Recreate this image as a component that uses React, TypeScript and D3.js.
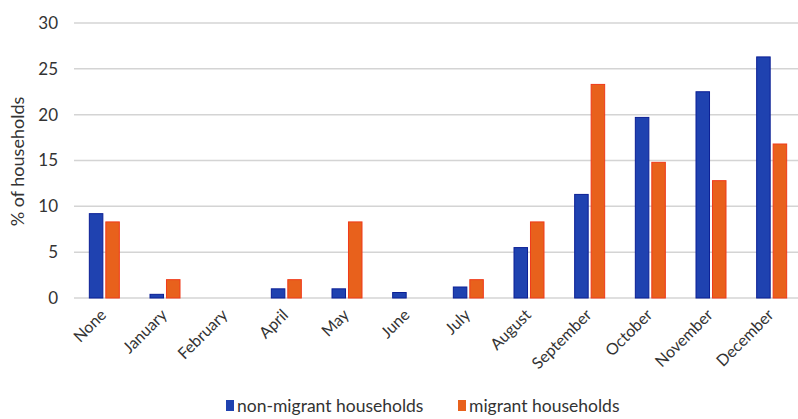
import React, { useEffect, useRef } from 'react';
import * as d3 from 'd3';

const categories = ["None", "January", "February", "April", "May", "June", "July", "August", "September", "October", "November", "December"];
const nonMigrant = [9.2, 0.4, 0, 1.0, 1.0, 0.6, 1.2, 5.5, 11.3, 19.7, 22.5, 26.3];
const migrant = [8.3, 2.0, 0, 2.0, 8.3, 0, 2.0, 8.3, 23.3, 14.8, 12.8, 16.8];
const seriesNames = ["non-migrant households", "migrant households"];
const yTicks = [0, 5, 10, 15, 20, 25, 30];

const FONT = "Lato, 'Open Sans', sans-serif";

function Chart() {
    const ref = useRef<SVGSVGElement>(null);

    useEffect(() => {
        const svg = d3.select(ref.current);
        svg.selectAll("*").remove();

        const width = 798;
        const left = 74, right = 802, top = 23, bottom = 298;

        const x = d3.scaleBand().domain(categories).range([left, right]).padding(0);
        const sub = d3.scaleBand().domain(seriesNames).range([-15, 15]).paddingInner(0.18);
        const y = d3.scaleLinear().domain([0, 30]).range([bottom, top]);

        // gridlines
        svg.append("g")
            .selectAll("line")
            .data(yTicks)
            .enter()
            .append("line")
            .attr("x1", left)
            .attr("x2", width)
            .attr("y1", d => y(d))
            .attr("y2", d => y(d))
            .attr("stroke", "#d4d4d4")
            .attr("stroke-width", 1.5);

        // y tick labels
        svg.append("g")
            .selectAll("text")
            .data(yTicks)
            .enter()
            .append("text")
            .attr("x", 58)
            .attr("y", d => y(d))
            .attr("dy", "0.35em")
            .attr("text-anchor", "end")
            .attr("font-family", FONT)
            .attr("font-size", 17)
            .attr("fill", "#333")
            .text(d => d);

        // y title
        svg.append("text")
            .attr("transform", "translate(24," + ((top + bottom) / 2 + 1) + ") rotate(-90)")
            .attr("text-anchor", "middle")
            .attr("font-family", FONT)
            .attr("font-size", 18)
            .attr("fill", "#333")
            .text("% of households");

        const colors = ["#1f42b0", "#e8611c"];
        const strokes = ["#0b1f95", "#f03a1a"];
        const series = [nonMigrant, migrant];

        // bars
        series.forEach((vals, si) => {
            const data = vals.map((v, i) => ({ cat: categories[i], v }));
            svg.append("g")
                .selectAll("rect")
                .data(data.filter(d => d.v > 0))
                .enter()
                .append("rect")
                .attr("x", d => (x(d.cat) as number) + x.bandwidth() / 2 + (sub(seriesNames[si]) as number))
                .attr("y", d => y(d.v))
                .attr("width", sub.bandwidth())
                .attr("height", d => bottom - y(d.v))
                .attr("fill", colors[si])
                .attr("stroke", strokes[si])
                .attr("stroke-width", 1);
        });

        // x labels
        svg.append("g")
            .selectAll("text")
            .data(categories)
            .enter()
            .append("text")
            .attr("transform", d => "translate(" + ((x(d) as number) + x.bandwidth() / 2 - 1) + ",312) rotate(-45)")
            .attr("text-anchor", "end")
            .attr("dy", "0.35em")
            .attr("font-family", FONT)
            .attr("font-size", 16)
            .attr("fill", "#333")
            .text(d => d);

        // legend (reference clips it at the bottom edge; kept just inside)
        const legendX = [226, 458];
        seriesNames.forEach((name, si) => {
            svg.append("rect")
                .attr("x", legendX[si])
                .attr("y", 400)
                .attr("width", 8)
                .attr("height", 11)
                .attr("fill", colors[si]);
            svg.append("text")
                .attr("x", legendX[si] + 11)
                .attr("y", 406)
                .attr("dy", "0.35em")
                .attr("font-family", FONT)
                .attr("font-size", 17.5)
                .attr("fill", "#333")
                .text(name);
        });
    }, []);

    return <svg ref={ref} width={798} height={419} style={{ display: "block" }}></svg>;
}

export default function App() {
    return (
        <div style={{ position: "absolute", left: 0, top: 0, width: 798, height: 419, background: "#fff", overflow: "hidden" }}>
            <Chart />
        </div>
    );
}
